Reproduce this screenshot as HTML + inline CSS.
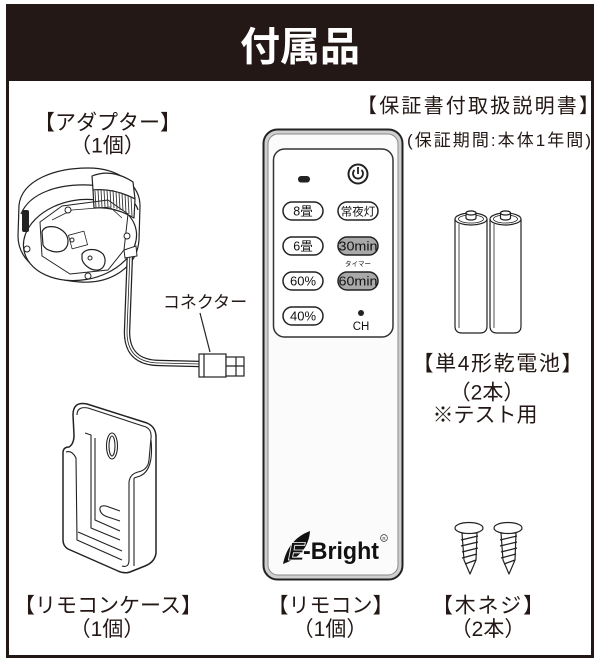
<!DOCTYPE html>
<html lang="ja">
<head>
<meta charset="utf-8">
<style>
  html,body{margin:0;padding:0;background:#fff;}
  body{width:600px;height:662px;overflow:hidden;}
  svg{display:block;}
  .t{font-family:"Liberation Sans","Noto Sans CJK JP",sans-serif;fill:#231815;}
  .b{font-family:"Liberation Sans","Noto Sans CJK JP",sans-serif;fill:#111;}
</style>
</head>
<body>
<svg width="600" height="662" viewBox="0 0 600 662" xmlns="http://www.w3.org/2000/svg">
  <rect x="0" y="0" width="600" height="662" fill="#fff"/>
  <!-- frame -->
  <rect x="7.5" y="5.5" width="585" height="651" fill="none" stroke="#231815" stroke-width="3"/>
  <rect x="6" y="4" width="588" height="77" fill="#231815"/>
  <text x="300" y="60.5" text-anchor="middle" font-size="40" font-weight="bold" fill="#fff" style="font-family:'Liberation Sans','Noto Sans CJK JP',sans-serif;">付属品</text>

  <!-- top-right labels -->
  <text class="t" x="357" y="112.5" font-size="20" textLength="242" lengthAdjust="spacing">【保証書付取扱説明書】</text>
  <text class="t" x="407" y="146" font-size="17" textLength="184" lengthAdjust="spacing">(保証期間:本体1年間)</text>

  <!-- adapter labels -->
  <text class="t" x="107.5" y="129.5" font-size="21" text-anchor="middle">【アダプター】</text>
  <text class="t" x="107.5" y="152.5" font-size="21" text-anchor="middle">（1個）</text>

  <!-- ===== Adapter drawing ===== -->
  <g stroke="#222" stroke-width="1.2" fill="#fff" stroke-linejoin="round">
    <path d="M 19,205 C 22,180 55,168 88,168 C 118,168 140,184 140,206 L 139,240 C 137,268 110,284 80,282 C 45,280 18,262 18,236 Z"/>
    <path d="M 21,214 C 30,192 60,184 88,185 C 112,186 134,196 138,210"/>
    <ellipse cx="80" cy="240" rx="57" ry="40" transform="rotate(-10 80 240)"/>
    <!-- raised block + knurl -->
    <path d="M 92,176 Q 112,168 133,182 L 135,199 Q 114,188 93,190 Z"/>
    <path d="M 93,190 Q 114,188 135,199 L 134,218 Q 114,206 94,208 Z"/>
    <!-- inner plate -->
    <path d="M 40,222 L 62,206 L 108,200 L 128,214 L 124,250 L 108,270 L 70,274 L 42,256 Z" fill="none" stroke-width="1"/>
    <path d="M 52,220 L 72,210 L 110,207 L 122,218" fill="none" stroke-width="0.8"/>
    <!-- lobes -->
    <path d="M 42,232 C 44,225 56,225 63,231 C 69,236 70,245 64,250 C 57,254 46,251 43,245 Z"/>
    <path d="M 82,254 C 86,248 97,248 103,254 C 107,260 105,269 98,270 C 90,271 83,264 82,259 Z"/>
    <rect x="70" y="233" width="16" height="14" transform="rotate(-15 78 240)" fill="#fff" stroke-width="0.8"/>
  </g>
  <g fill="#fff" stroke="#222" stroke-width="1">
    <circle cx="68" cy="210" r="3"/>
    <circle cx="127" cy="236" r="3"/>
    <circle cx="27" cy="249" r="3"/>
    <circle cx="88" cy="276" r="3"/>
    <circle cx="72" cy="240" r="2"/>
    <circle cx="90" cy="258" r="2"/>
  </g>
  <g stroke="#333" stroke-width="0.9">
    <line x1="95" y1="191" x2="96" y2="208"/><line x1="98" y1="190" x2="99" y2="207"/>
    <line x1="101" y1="190" x2="102" y2="207"/><line x1="104" y1="190" x2="105" y2="207"/>
    <line x1="107" y1="190" x2="108" y2="207"/><line x1="110" y1="190" x2="111" y2="207"/>
    <line x1="113" y1="190" x2="114" y2="208"/><line x1="116" y1="191" x2="117" y2="209"/>
    <line x1="119" y1="192" x2="120" y2="210"/><line x1="122" y1="193" x2="123" y2="211"/>
    <line x1="125" y1="194" x2="126" y2="213"/><line x1="128" y1="195" x2="129" y2="214"/>
    <line x1="131" y1="197" x2="132" y2="216"/>
  </g>
  <rect x="22" y="210" width="7" height="22" rx="2" fill="#222"/>
  <!-- cable -->
  <path d="M 130,252 L 127,332 Q 127,363 160,363 L 200,364" fill="none" stroke="#222" stroke-width="6.5"/>
  <path d="M 130,252 L 127,332 Q 127,363 160,363 L 200,364" fill="none" stroke="#fff" stroke-width="4"/>
  <path d="M 130,252 L 127,332 Q 127,363 160,363 L 200,364" fill="none" stroke="#222" stroke-width="0.8"/>
  <path d="M 124,250 L 136,246 L 137,256 L 125,258 Z" fill="#fff" stroke="#222" stroke-width="1"/>
  <!-- connector -->
  <g fill="#fff" stroke="#222" stroke-width="1.2">
    <rect x="199" y="354" width="27" height="23"/>
    <rect x="226" y="357" width="18" height="19"/>
    <line x1="226" y1="366" x2="244" y2="366"/>
    <line x1="204" y1="354" x2="204" y2="377"/>
    <line x1="236" y1="357" x2="236" y2="376"/>
  </g>
  <text class="t" x="205" y="308" font-size="17" text-anchor="middle">コネクター</text>
  <line x1="200" y1="313" x2="210" y2="352" stroke="#222" stroke-width="1.2"/>

  <!-- ===== Remote ===== -->
  <rect x="263.5" y="129.5" width="139" height="450" rx="14" fill="#cfcfcf" stroke="#222" stroke-width="2"/>
  <rect x="268" y="134" width="130" height="441" rx="10" fill="#fbfbfb" stroke="#888" stroke-width="1"/>
  <rect x="273.5" y="149" width="119.5" height="188" rx="11" fill="#fff" stroke="#333" stroke-width="1.5"/>
  <rect x="298" y="176" width="12" height="6.5" rx="3.2" fill="#222"/>
  <circle cx="358" cy="174" r="9.5" fill="#fff" stroke="#222" stroke-width="2"/>
  <path d="M 354.5,170 A 5,5 0 1 0 361.5,170" fill="none" stroke="#222" stroke-width="1.8"/>
  <line x1="358" y1="167" x2="358" y2="174" stroke="#222" stroke-width="1.8"/>
  <g stroke="#222" stroke-width="1.5">
    <rect x="283" y="202" width="40" height="18" rx="9" fill="#fff"/>
    <rect x="338" y="202" width="40" height="18" rx="9" fill="#fff"/>
    <rect x="283" y="237" width="40" height="18" rx="9" fill="#fff"/>
    <rect x="338" y="237" width="40" height="18" rx="9" fill="#a9a9a9"/>
    <rect x="283" y="272" width="40" height="18" rx="9" fill="#fff"/>
    <rect x="338" y="272" width="40" height="18" rx="9" fill="#a9a9a9"/>
    <rect x="283" y="307" width="40" height="18" rx="9" fill="#fff"/>
  </g>
  <g class="b" font-size="12.5" text-anchor="middle">
    <text x="303" y="215.5">8畳</text>
    <text x="358" y="215.5" font-size="11.5">常夜灯</text>
    <text x="303" y="250.5">6畳</text>
    <text x="358" y="250.5" font-size="13" textLength="39" lengthAdjust="spacingAndGlyphs">30min</text>
    <text x="303" y="285.5" font-size="13">60%</text>
    <text x="358" y="285.5" font-size="13" textLength="39" lengthAdjust="spacingAndGlyphs">60min</text>
    <text x="303" y="320.5" font-size="13">40%</text>
    <text x="358" y="266" font-size="6.5">タイマー</text>
    <text x="361" y="330" font-size="11.5">CH</text>
  </g>
  <circle cx="361" cy="313" r="3" fill="#222"/>
  <!-- logo -->
  <path d="M 283,564 C 286,549 294,537 310,531 C 309,546 300,558 283,564 Z" fill="#111"/>
  <text x="288" y="560" font-size="25" font-weight="bold" font-style="italic" fill="#111" stroke="#fff" stroke-width="0.8" style="font-family:'Liberation Sans',sans-serif;">E</text>
  <text x="303" y="559" font-size="24" font-weight="bold" fill="#111" textLength="76" lengthAdjust="spacingAndGlyphs" style="font-family:'Liberation Sans Narrow','Liberation Sans',sans-serif;">-Bright</text>
  <circle cx="384" cy="538" r="3.4" fill="none" stroke="#333" stroke-width="0.7"/>
  <text x="384" y="540" font-size="4.5" text-anchor="middle" fill="#333" style="font-family:'Liberation Sans',sans-serif;">R</text>

  <!-- ===== Batteries ===== -->
  <g fill="#fff" stroke="#222" stroke-width="1.2">
    <path d="M 455,219 L 455,326 Q 455,333 462,333 L 480,333 Q 487,333 487,326 L 487,219"/>
    <ellipse cx="471" cy="219" rx="16" ry="6"/>
    <ellipse cx="471" cy="219" rx="12.5" ry="4" fill="none" stroke-width="0.8"/>
    <path d="M 466,218 L 466,213 A 5,2 0 0 1 476,213 L 476,218 A 5,2 0 0 1 466,218 Z"/>
    <ellipse cx="471" cy="213" rx="5" ry="2"/>
    <line x1="459" y1="224" x2="459" y2="328" stroke-width="0.8"/>
    <path d="M 490,219 L 490,326 Q 490,333 497,333 L 514,333 Q 521,333 521,326 L 521,219"/>
    <ellipse cx="505.5" cy="219" rx="15.5" ry="6"/>
    <ellipse cx="505.5" cy="219" rx="12" ry="4" fill="none" stroke-width="0.8"/>
    <path d="M 500.5,218 L 500.5,213 A 5,2 0 0 1 510.5,213 L 510.5,218 A 5,2 0 0 1 500.5,218 Z"/>
    <ellipse cx="505.5" cy="213" rx="5" ry="2"/>
    <line x1="494" y1="224" x2="494" y2="328" stroke-width="0.8"/>
  </g>
  <text class="t" x="497.5" y="370.5" font-size="21" text-anchor="middle" textLength="170" lengthAdjust="spacing">【単4形乾電池】</text>
  <text class="t" x="487" y="399.5" font-size="21" text-anchor="middle">（2本）</text>
  <text class="t" x="485" y="422" font-size="21" text-anchor="middle">※テスト用</text>

  <!-- ===== Remote case ===== -->
  <g fill="#fff" stroke="#222" stroke-width="1.5" stroke-linejoin="round">
    <path d="M 73,415 Q 73,401 87,404 L 147,423 Q 156,427 156,437 L 156,553 Q 155,562 145,566 L 130,572 Q 124,574 118,571 L 68,549 Q 63,546 63,540 L 63,453 Q 63,447 69,447 Q 74,444 74,435 Z"/>
  </g>
  <g fill="none" stroke="#222" stroke-width="1.1" stroke-linejoin="round">
    <path d="M 77,415 Q 77,406 88,408 L 146,427 Q 152,430 151,438 L 149,460 Q 148,470 138,472 Q 130,474 129,482"/>
    <path d="M 66,452 Q 72,450 76,458 L 77,540 L 122,560"/>
    <path d="M 129,482 L 129,560 Q 129,568 122,566"/>
    <path d="M 134,478 L 134,566"/>
    <path d="M 151,440 Q 154,470 140,476 L 134,478"/>
    <path d="M 85,433 L 91,435 L 91,528 L 120,540"/>
    <path d="M 78,532 L 122,551"/>
    <path d="M 95,438 L 95,520 L 120,531"/>
    <ellipse cx="112" cy="446" rx="5.5" ry="13"/>
    <ellipse cx="112" cy="446" rx="3" ry="10"/>
    <path d="M 106,506 Q 99,505 100,510 Q 101,515 108,517 L 120,521 M 106,506 L 120,511"/>
  </g>
  <text class="t" x="108" y="612.5" font-size="21" text-anchor="middle">【リモコンケース】</text>
  <text class="t" x="107" y="636" font-size="21" text-anchor="middle">（1個）</text>

  <!-- ===== Screws ===== -->
  <g fill="#fff" stroke="#222" stroke-width="1.2" stroke-linejoin="round">
    <path d="M 462,533 L 477,533 L 476,560 L 470,574 L 464,560 Z"/>
    <ellipse cx="469" cy="528" rx="14" ry="5.5"/>
    <path d="M 501,533 L 516,533 L 515,560 L 509,574 L 503,560 Z"/>
    <ellipse cx="508" cy="528" rx="14" ry="5.5"/>
  </g>
  <g stroke="#222" stroke-width="1.3">
    <line x1="461" y1="540" x2="478" y2="536"/>
    <line x1="461" y1="546" x2="478" y2="542"/>
    <line x1="462" y1="552" x2="478" y2="548"/>
    <line x1="462" y1="558" x2="477" y2="554"/>
    <line x1="465" y1="564" x2="476" y2="560"/>
    <line x1="500" y1="540" x2="517" y2="536"/>
    <line x1="500" y1="546" x2="517" y2="542"/>
    <line x1="501" y1="552" x2="517" y2="548"/>
    <line x1="501" y1="558" x2="516" y2="554"/>
    <line x1="504" y1="564" x2="515" y2="560"/>
  </g>

  <!-- bottom labels -->
  <text class="t" x="330.5" y="612.5" font-size="21" text-anchor="middle">【リモコン】</text>
  <text class="t" x="330" y="636" font-size="21" text-anchor="middle">（1個）</text>
  <text class="t" x="488" y="612.5" font-size="21" text-anchor="middle" textLength="112" lengthAdjust="spacing">【木ネジ】</text>
  <text class="t" x="488" y="636" font-size="21" text-anchor="middle">（2本）</text>
</svg>
</body>
</html>
